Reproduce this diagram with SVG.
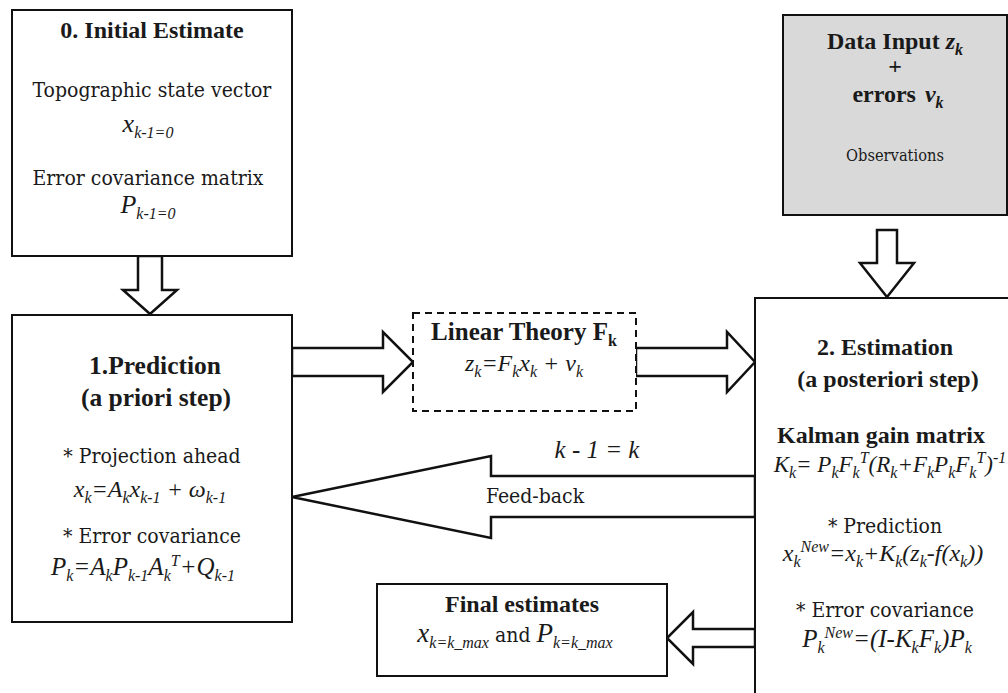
<svg xmlns="http://www.w3.org/2000/svg" width="1008" height="693" viewBox="0 0 1008 693">
<style>
.box{fill:#fff;stroke:#111;stroke-width:2}
.gray{fill:#d9d9d9}
.dash{fill:#fff;stroke:#111;stroke-width:2;stroke-dasharray:7 5}
.arr{fill:#fff;stroke:#111;stroke-width:2.5;stroke-linejoin:miter}
text{font-family:'Liberation Serif','Times New Roman',serif;fill:#1a1a1a;text-anchor:middle;font-size:24px}
.r{font-family:'DejaVu Serif Condensed','DejaVu Serif',serif;font-size:21px}
.b{font-weight:bold}
.i{font-style:italic}
.s{font-size:16px;baseline-shift:-6px}
.p{font-size:16px;baseline-shift:9px}
.sm{font-size:16.3px}
</style>
<rect width="1008" height="693" fill="#fff"/>
<g id="connectors">
<polygon class="arr" points="138,256 162,256 162,290 177,290 150,314 123,290 138,290"/>
<polygon class="arr" points="877,230 897,230 897,263 914,263 887,297 860,263 877,263"/>
<polygon class="arr" points="292,348 383,348 383,332 413,362 383,392 383,376 292,376"/>
<polygon class="arr" points="636,348 727,348 727,332 755,362 727,392 727,376 636,376"/>
<polygon class="arr" points="755,476 491,476 491,456 292,497 491,538 491,517 755,517"/>
<polygon class="arr" points="755,629 693,629 693,612 667,638 693,664 693,647 755,647"/>
<text x="597" y="458" class="i" style="font-size:25px">k - 1 = k</text>
<text x="535" y="503" class="r">Feed-back</text>
</g>
<g id="initial">
<rect class="box" x="12" y="10" width="280" height="246"/>
<text x="152" y="38" class="b">0. Initial Estimate</text>
<text x="152" y="97" class="r">Topographic state vector</text>
<text x="148" y="132" class="i" style="font-size:26px">x<tspan class="s">k-1=0</tspan></text>
<text x="148" y="185" class="r">Error covariance matrix</text>
<text x="148" y="213" class="i" style="font-size:26px">P<tspan class="s">k-1=0</tspan></text>
</g>
<g id="data">
<rect class="box gray" x="783" y="15" width="224" height="200"/>
<text x="895" y="49" class="b">Data Input <tspan class="i">z<tspan class="s">k</tspan></tspan></text>
<text x="895" y="74" class="b">+</text>
<text x="898" y="102" class="b">errors<tspan class="i" dx="9">ν<tspan class="s">k</tspan></tspan></text>
<text x="895" y="161" class="r sm">Observations</text>
</g>
<g id="prediction">
<rect class="box" x="12" y="315" width="280" height="307"/>
<text x="155" y="374" class="b" style="font-size:25.5px">1.Prediction</text>
<text x="156" y="406" class="b" style="font-size:25.5px">(a priori step)</text>
<text x="152" y="463" class="r">* Projection ahead</text>
<text x="150" y="497" class="i">x<tspan class="s">k</tspan>=A<tspan class="s">k</tspan>x<tspan class="s">k-1</tspan> + ω<tspan class="s">k-1</tspan></text>
<text x="152" y="543" class="r">* Error covariance</text>
<text x="143" y="575" class="i" style="font-size:25px">P<tspan class="s">k</tspan>=A<tspan class="s">k</tspan>P<tspan class="s">k-1</tspan>A<tspan class="s">k</tspan><tspan class="p">T</tspan>+Q<tspan class="s">k-1</tspan></text>
</g>
<g id="linear">
<rect class="dash" x="413" y="313" width="223" height="98"/>
<text x="524" y="340" class="b" style="font-size:25px">Linear Theory  F<tspan class="s">k</tspan></text>
<text x="524" y="371" class="i">z<tspan class="s">k</tspan>=F<tspan class="s">k</tspan>x<tspan class="s">k</tspan> + ν<tspan class="s">k</tspan></text>
</g>
<g id="estimation">
<rect class="box" x="755" y="298" width="300" height="450"/>
<text x="885" y="355" class="b">2. Estimation</text>
<text x="888" y="387" class="b">(a posteriori step)</text>
<text x="881" y="443" class="b">Kalman gain matrix</text>
<text x="890" y="472" class="i" style="font-size:23px">K<tspan class="s">k</tspan>= P<tspan class="s">k</tspan>F<tspan class="s">k</tspan><tspan class="p">T</tspan>(R<tspan class="s">k</tspan>+F<tspan class="s">k</tspan>P<tspan class="s">k</tspan>F<tspan class="s">k</tspan><tspan class="p">T</tspan>)<tspan class="p">-1</tspan></text>
<text x="885" y="533" class="r">* Prediction</text>
<text x="883" y="561" class="i">x<tspan class="s">k</tspan><tspan class="p">New</tspan>=x<tspan class="s">k</tspan>+K<tspan class="s">k</tspan>(z<tspan class="s">k</tspan>-f(x<tspan class="s">k</tspan>))</text>
<text x="885" y="617" class="r">* Error covariance</text>
<text x="887" y="647" class="i" style="font-size:25px">P<tspan class="s">k</tspan><tspan class="p">New</tspan>=(I-K<tspan class="s">k</tspan>F<tspan class="s">k</tspan>)P<tspan class="s">k</tspan></text>
</g>
<g id="final">
<rect class="box" x="377" y="584" width="290" height="92"/>
<text x="522" y="612" class="b">Final estimates</text>
<text x="515" y="642"><tspan class="i" style="font-size:27px">x<tspan class="s">k=k_max</tspan></tspan><tspan class="r"> and </tspan><tspan class="i" style="font-size:27px">P<tspan class="s">k=k_max</tspan></tspan></text>
</g>
</svg>
